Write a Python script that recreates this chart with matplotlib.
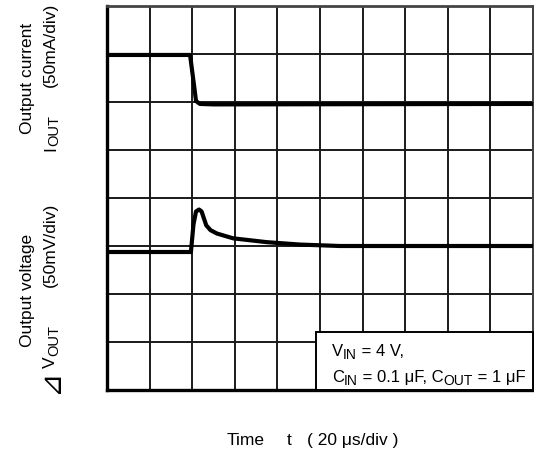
import matplotlib
matplotlib.use("Agg")
import matplotlib.pyplot as plt
from matplotlib.patches import Rectangle

plt.rcParams['font.family'] = ['Liberation Sans', 'DejaVu Sans']

# Data (divisions: x 0..10, y 0..8 from bottom)
current_x = [0.0, 1.95, 2.05, 2.09, 2.18, 2.5, 10.0]
current_y = [6.98, 6.98, 6.3, 6.02, 5.96, 5.95, 5.96]

voltage_x = [0.0, 1.97, 2.03, 2.09, 2.16, 2.22, 2.33, 2.43, 2.58, 2.96, 3.75, 4.53, 5.47, 10.0]
voltage_y = [2.875, 2.875, 3.45, 3.72, 3.76, 3.72, 3.43, 3.33, 3.26, 3.16, 3.08, 3.03, 3.0, 3.0]

W, H = 534, 452
fig = plt.figure(figsize=(W/100, H/100), dpi=100)
ax = fig.add_axes([107/W, 1-391/H, 426/W, 384/H])
ax.set_xlim(0, 10)
ax.set_ylim(0, 8)
ax.set_xticks(range(11))
ax.set_yticks(range(9))
ax.tick_params(length=0, labelbottom=False, labelleft=False)
ax.grid(True, color='#1a1a1a', lw=1.4)
ax.set_axisbelow(True)
for s in ['left', 'bottom']:
    ax.spines[s].set_linewidth(2.4)
    ax.spines[s].set_color('black')
for s in ['top', 'right']:
    ax.spines[s].set_linewidth(2.0)
    ax.spines[s].set_color('#444444')

ax.plot(current_x, current_y, color='black', lw=3.0, solid_joinstyle='round', zorder=3)
ax.plot(voltage_x, voltage_y, color='black', lw=3.0, solid_joinstyle='round', zorder=3)

ax.add_patch(Rectangle((4.9, 0), 5.1, 1.21, facecolor='white', edgecolor='black',
                       lw=1.4, zorder=4, clip_on=False))

renderer = fig.canvas.get_renderer()


def rich_h(x, y, pieces):
    """Horizontal text made of pieces (text, size, down-shift px); x,y pixel (top origin)."""
    cx = x
    for s, size, dy in pieces:
        t = fig.text(cx/W, 1-(y+dy)/H, s, fontsize=size, ha='left', va='baseline', zorder=6)
        cx += t.get_window_extent(renderer).width


def rich_v(x, y, pieces):
    """Text rotated 90 deg, reading upward from pixel y, baseline at pixel x."""
    cy = y
    for item in pieces:
        s, size, dx = item[:3]
        kw = item[3] if len(item) > 3 else {}
        t = fig.text((x+dx)/W, 1-cy/H, s, fontsize=size, rotation=90,
                     rotation_mode='anchor', ha='left', va='baseline', **kw)
        cy -= t.get_window_extent(renderer).height


def ft(px, py, s, **kw):
    return fig.text(px/W, 1-py/H, s, **kw)


# legend box text
rich_h(332, 356, [('V', 12, 0), ('IN', 10, 3), (' = 4 V,', 12, 0)])
rich_h(332, 382, [('C', 12, 0), ('IN', 10, 3), (' = 0.1 μF, C', 12, 0), ('OUT', 10, 3),
                  (' = 1 μF', 12, 0)])

# x label
ft(227, 445, 'Time', fontsize=12.5, ha='left', va='baseline')
ft(287, 445, 't', fontsize=12.5, ha='left', va='baseline')
ft(307, 445, '( 20 μs/div )', fontsize=12.5, ha='left', va='baseline')

rk = dict(fontsize=12.5, rotation=90, rotation_mode='anchor', va='baseline')
# current label
ft(32, 78, 'Output current', ha='center', **rk)
rich_v(55, 151, [('I', 12.5, 0), ('OUT', 10.5, 3)])
ft(55, 3, '(50mA/div)', ha='right', **rk)
# voltage label
ft(32, 290, 'Output voltage', ha='center', **rk)
rich_v(58, 393, [('⊿', 21, 0, {'family': ['DejaVu Sans']})])
rich_v(55, 368, [('V', 12.5, 0), ('OUT', 10.5, 3)])
ft(55, 203, '(50mV/div)', ha='right', **rk)

fig.savefig('out.png', dpi=100)
